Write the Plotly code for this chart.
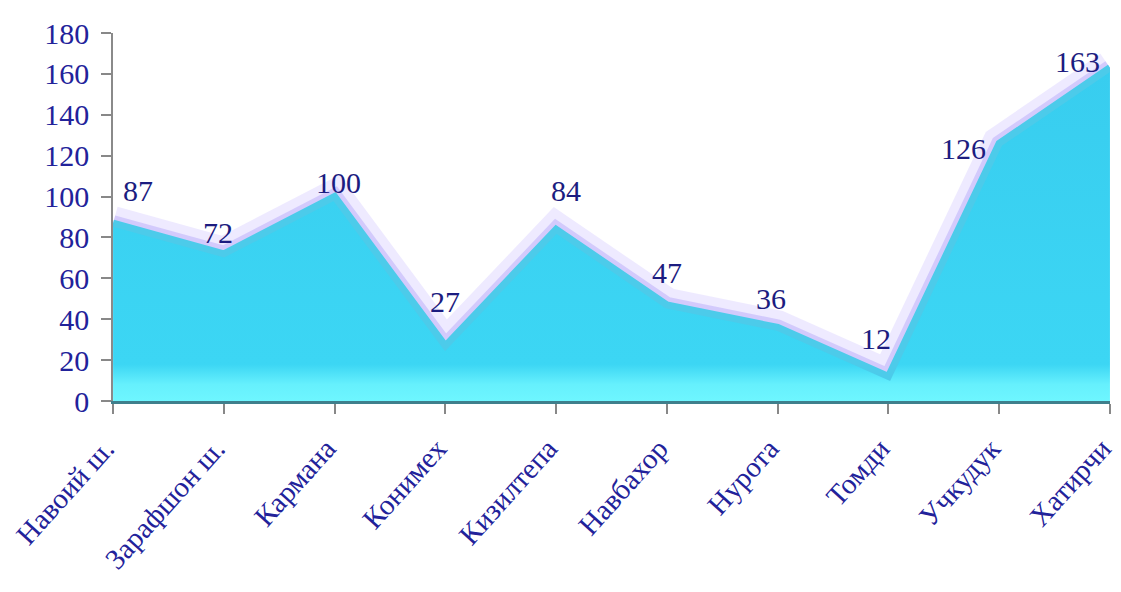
import plotly.graph_objects as go

categories = ["Навоий ш.", "Зарафшон ш.", "Кармана", "Конимех", "Кизилтепа",
              "Навбахор", "Нурота", "Томди", "Учкудук", "Хатирчи"]
values = [87, 72, 100, 27, 84, 47, 36, 12, 126, 163]
y_ticks = [0, 20, 40, 60, 80, 100, 120, 140, 160, 180]

# label offsets (pixels), styling only
label_dx = [25, -6, 4, 0, 10, 0, -7, -12, -36, -32]
label_dy = [33, 21, 14, 44, 39, 32, 29, 38, -5, 6]

x_idx = list(range(len(categories)))
text_col = "#22229a"
lbl_col = "#1c1c80"
font = "Liberation Serif, Times New Roman, serif"

fig = go.Figure()
# glow behind the line
fig.add_trace(go.Scatter(x=x_idx, y=values, mode="lines",
                         line=dict(color="rgba(205,195,255,0.35)", width=34),
                         hoverinfo="skip", showlegend=False))
fig.add_trace(go.Scatter(x=x_idx, y=values, mode="lines",
                         line=dict(color="rgba(170,155,248,0.40)", width=16),
                         hoverinfo="skip", showlegend=False))
# filled area
fig.add_trace(go.Scatter(x=x_idx, y=values, mode="lines", fill="tozeroy",
                         fillgradient=dict(type="vertical",
                                           colorscale=[[0, "#6ef6ff"], [0.05, "#66f0fd"],
                                                       [0.11, "#3cd6f4"], [1, "#38cdef"]]),
                         line=dict(color="#4ccbea", width=7),
                         hoverinfo="skip", showlegend=False))

for i, v in enumerate(values):
    fig.add_annotation(x=x_idx[i], y=v, text=str(v), showarrow=False,
                       xshift=label_dx[i], yshift=label_dy[i],
                       font=dict(family=font, size=30, color=lbl_col))

# page body has an 8px default margin, so the figure is sized to fit the window
fig.update_layout(
    width=1113, height=576,
    margin=dict(l=105, r=11, t=25, b=183),
    paper_bgcolor="white", plot_bgcolor="white",
    font=dict(family=font, color=text_col),
)
fig.update_xaxes(
    range=[-0.0005, len(categories) - 1 + 0.0005], tickmode="array", tickvals=x_idx,
    ticktext=categories, tickangle=-48, automargin=False,
    ticklabeloverflow="allow", ticklabelshift=-8, ticklabelstandoff=6,
    tickfont=dict(family=font, size=29, color=text_col),
    showline=True, linecolor="#3f7f8c", linewidth=3,
    ticks="outside", ticklen=10, tickcolor="#888888", tickwidth=1.5,
    showgrid=False, zeroline=False,
)
fig.update_yaxes(
    range=[0, 180], tickmode="array", tickvals=y_ticks, automargin=False,
    ticklabeloverflow="allow",
    tickfont=dict(family=font, size=30, color=text_col),
    showline=True, linecolor="#8a8a8a", linewidth=1.5,
    ticks="outside", ticklen=10, tickcolor="#888888", tickwidth=1.5,
    ticklabelstandoff=6,
    showgrid=False, zeroline=False,
)

fig.write_html("out.html")
